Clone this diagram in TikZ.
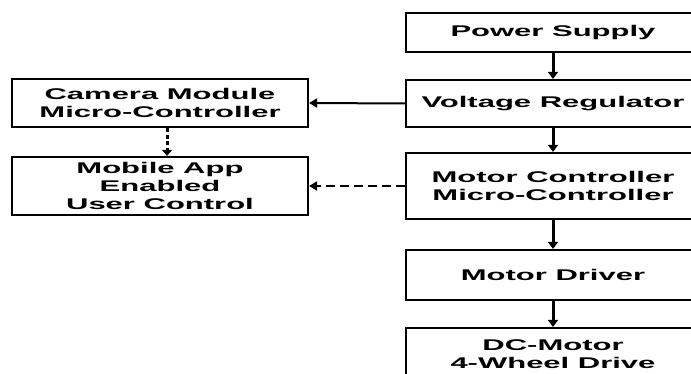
\documentclass[tikz,border=0pt]{standalone}
\usepackage{fontspec}
\setmainfont[FakeStretch=2.0]{Liberation Sans}
\usetikzlibrary{arrows.meta}
\begin{document}
\begin{tikzpicture}[x=1pt,y=-1pt,
  box/.style={draw=black,line width=2.2pt,fill=white,inner sep=0pt,align=center,
    font=\fontsize{15.5}{17.8}\selectfont\bfseries},
  varr/.style={line width=3pt,-{Triangle[width=10pt,length=7pt]}},
  harr/.style={line width=2pt,-{Triangle[width=9pt,length=8pt]}},
  hdash/.style={harr,dash pattern=on 9pt off 5pt},
  vdash/.style={line width=3pt,dash pattern=on 4pt off 2.5pt,-{Triangle[width=10pt,length=6pt]}}]
\useasboundingbox (0,0) rectangle (691,374);
\clip (0,0) rectangle (691,374);
\fill[white] (0,0) rectangle (691,374);
\node[box,minimum width=294pt,minimum height=39pt] (ps) at (553,32.5) {Power Supply};
\node[box,minimum width=294pt,minimum height=47pt] (vr) at (553,103.5) {Voltage Regulator};
\node[box,minimum width=294pt,minimum height=66pt] (mc) at (553,186) {Motor Controller\\Micro-Controller};
\node[box,minimum width=294pt,minimum height=50pt] (md) at (553,275) {Motor Driver};
\node[box,minimum width=294pt,minimum height=52pt] (dc) at (553,354) {DC-Motor\\4-Wheel Drive};
\node[box,minimum width=296pt,minimum height=48pt] (cam) at (160,103) {Camera Module\\Micro-Controller};
\node[box,minimum width=296pt,minimum height=58pt] (mob) at (160,186) {Mobile App\\Enabled\\User Control};
\draw[varr] (ps) -- (vr);
\draw[varr] (vr) -- (mc);
\draw[varr] (mc) -- (md);
\draw[varr] (md) -- (dc);
\draw[harr] (vr.west) -- (cam.east);
\draw[hdash] (mc.west) -- (mob.east);
\draw[vdash] ([xshift=7pt]cam.south) -- ([xshift=7pt]mob.north);
\end{tikzpicture}
\end{document}
